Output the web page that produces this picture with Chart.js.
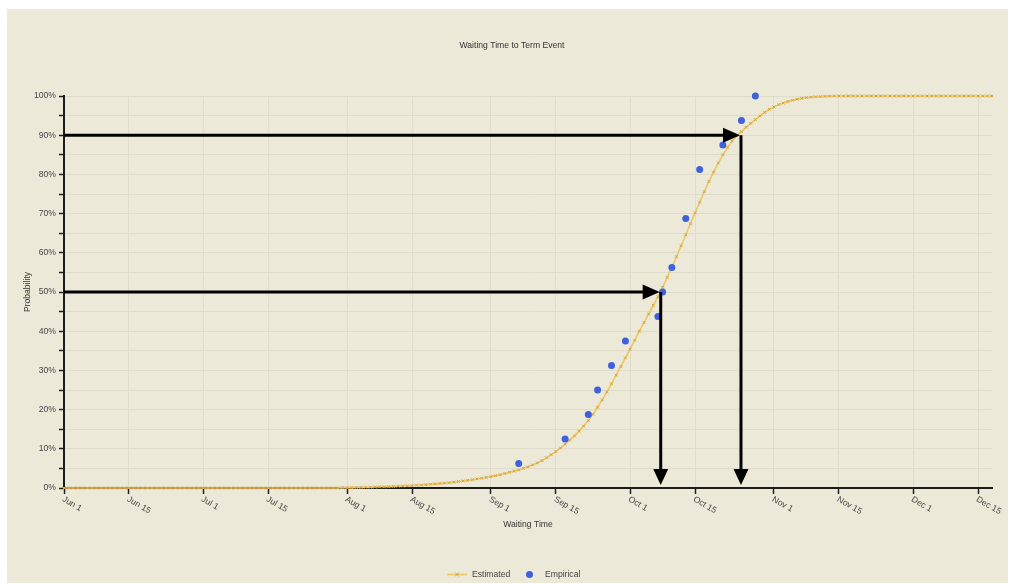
<!DOCTYPE html>
<html>
<head>
<meta charset="utf-8">
<title>Waiting Time to Term Event</title>
<script src="https://cdn.jsdelivr.net/npm/chart.js@4.4.1/dist/chart.umd.min.js"></script>
<style>
  html, body { margin: 0; padding: 0; background: #ffffff; overflow: hidden; }
  canvas { display: block; }
</style>
</head>
<body>
<canvas id="chart" width="1011" height="584"></canvas>
<script>
// ---- data ----
const chartTitle = 'Waiting Time to Term Event';
const xAxisTitle = 'Waiting Time';
const yAxisTitle = 'Probability';

// x values are day offsets counted from Jun 1
const axisFirstDay = 0;
const axisLastDay = 200;
const tickDays = [0, 14, 30, 44, 61, 75, 92, 106, 122, 136, 153, 167, 183, 197];
const tickLabels = ['Jun 1', 'Jun 15', 'Jul 1', 'Jul 15', 'Aug 1', 'Aug 15', 'Sep 1',
                    'Sep 15', 'Oct 1', 'Oct 15', 'Nov 1', 'Nov 15', 'Dec 1', 'Dec 15'];

// fitted distribution, one value (%) per day starting Jun 1
const estimatedProb = [
  0, 0, 0, 0, 0, 0, 0, 0, 0, 0,
  0, 0, 0, 0, 0, 0, 0, 0, 0, 0,
  0, 0, 0, 0, 0, 0, 0, 0, 0, 0,
  0, 0, 0, 0, 0, 0, 0, 0, 0, 0,
  0, 0, 0, 0, 0, 0, 0, 0, 0, 0,
  0, 0, 0, 0, 0, 0, 0, 0, 0, 0,
  0.1, 0.1, 0.1, 0.15, 0.15, 0.2, 0.2, 0.25, 0.3, 0.3,
  0.35, 0.4, 0.45, 0.5, 0.55, 0.6, 0.7, 0.75, 0.85, 0.95,
  1.05, 1.15, 1.25, 1.35, 1.5, 1.65, 1.8, 1.95, 2.1, 2.3,
  2.5, 2.7, 2.9, 3.15, 3.4, 3.7, 4.0, 4.3, 4.6, 5.0,
  5.4, 5.9, 6.4, 7.0, 7.7, 8.5, 9.3, 10.2, 11.2, 12.2,
  13.3, 14.5, 15.8, 17.2, 18.8, 20.6, 22.5, 24.5, 26.6, 28.8,
  31.0, 33.2, 35.4, 37.7, 40.0, 42.2, 44.4, 46.6, 48.8, 51.2,
  53.7, 56.3, 59.0, 61.8, 64.6, 67.4, 70.2, 72.9, 75.6, 78.2,
  80.6, 82.9, 85.0, 86.9, 88.5, 89.8, 90.9, 92.0, 93.0, 94.0,
  94.9, 95.8, 96.6, 97.2, 97.8, 98.2, 98.6, 98.9, 99.2, 99.4,
  99.6, 99.7, 99.8, 99.85, 99.9, 99.95, 100, 100, 100, 100,
  100, 100, 100, 100, 100, 100, 100, 100, 100, 100,
  100, 100, 100, 100, 100, 100, 100, 100, 100, 100,
  100, 100, 100, 100, 100, 100, 100, 100, 100, 100,
  100
];

// observed events (cumulative share, %)
const empiricalDays = [98, 108, 113, 115, 118, 121, 128, 129, 131, 134, 137, 142, 146, 149];
const empiricalProb = [6.25, 12.5, 18.75, 25, 31.25, 37.5, 43.75, 50, 56.25, 68.75, 81.25, 87.5, 93.75, 100];

// read-off guides: probability level -> day on the fitted curve
const guideProbs = [50, 90];
const guideDays = [128.6, 145.9];

// ---- styling ----
const PANEL = '#ECE9D8';
const GRID = '#DFDCCA';
const AXIS = '#1c1c1c';
const TEXT = '#454545';
const EST_LINE = '#ECC766';
const EST_MARK = '#D6A63C';
const EMP_DOT = '#3F62DC';
const FONT = "'Liberation Sans', Arial, sans-serif";
const FS = 8.6;

Chart.defaults.font.family = FONT;
Chart.defaults.font.size = FS;
Chart.defaults.color = TEXT;

const estimatedPoints = estimatedProb.map((p, i) => ({ x: axisFirstDay + i, y: p }));
const empiricalPoints = empiricalDays.map((d, i) => ({ x: d, y: empiricalProb[i] }));

const panelPlugin = {
  id: 'panel',
  beforeDraw(chart) {
    const ctx = chart.ctx;
    ctx.save();
    ctx.fillStyle = '#ffffff';
    ctx.fillRect(0, 0, chart.width, chart.height);
    ctx.fillStyle = PANEL;
    ctx.fillRect(7, 9, 1001, 574);
    // chart heading
    ctx.font = FS + 'px ' + FONT;
    ctx.fillStyle = '#333';
    ctx.textAlign = 'center';
    ctx.textBaseline = 'middle';
    ctx.fillText(chartTitle, 512, 46);
    ctx.restore();
  }
};

const slantedLabels = {
  id: 'slantedLabels',
  afterDraw(chart) {
    const ctx = chart.ctx;
    const xs = chart.scales.x;
    const y0 = chart.scales.y.bottom + 7;
    ctx.save();
    ctx.font = FS + 'px ' + FONT;
    ctx.fillStyle = TEXT;
    ctx.textAlign = 'left';
    ctx.textBaseline = 'top';
    tickDays.forEach((d, i) => {
      const x = xs.getPixelForValue(d);
      ctx.save();
      ctx.translate(x + 1, y0);
      ctx.rotate(30 * Math.PI / 180);
      ctx.fillText(tickLabels[i], 0, 0);
      ctx.restore();
    });
    ctx.restore();
  }
};

const guideArrows = {
  id: 'guideArrows',
  afterDatasetsDraw(chart) {
    const ctx = chart.ctx;
    const xs = chart.scales.x, ys = chart.scales.y;
    ctx.save();
    ctx.strokeStyle = '#000';
    ctx.fillStyle = '#000';
    ctx.lineWidth = 3;
    ctx.lineCap = 'butt';
    guideProbs.forEach((p, i) => {
      const px = xs.getPixelForValue(guideDays[i]);
      const py = ys.getPixelForValue(p);
      const x0 = xs.left;
      const tipX = px - 1;
      const headL = 17, headW = 7.5;
      // horizontal arrow from the axis to the curve
      ctx.beginPath();
      ctx.moveTo(x0, py);
      ctx.lineTo(tipX - headL + 2, py);
      ctx.stroke();
      ctx.beginPath();
      ctx.moveTo(tipX, py);
      ctx.lineTo(tipX - headL, py - headW);
      ctx.lineTo(tipX - headL, py + headW);
      ctx.closePath();
      ctx.fill();
      // vertical arrow from the curve down to the time axis
      const tipY = ys.bottom - 3;
      const vL = 16, vW = 7.5;
      ctx.beginPath();
      ctx.moveTo(px, py);
      ctx.lineTo(px, tipY - vL + 2);
      ctx.stroke();
      ctx.beginPath();
      ctx.moveTo(px, tipY);
      ctx.lineTo(px - vW, tipY - vL);
      ctx.lineTo(px + vW, tipY - vL);
      ctx.closePath();
      ctx.fill();
    });
    ctx.restore();
  }
};

const bottomLegend = {
  id: 'bottomLegend',
  afterDraw(chart) {
    const ctx = chart.ctx;
    const y = 574.5;
    ctx.save();
    // Estimated: line with a marker
    ctx.strokeStyle = EST_LINE;
    ctx.lineWidth = 1.6;
    ctx.beginPath();
    ctx.moveTo(447, y);
    ctx.lineTo(467, y);
    ctx.stroke();
    ctx.strokeStyle = EST_MARK;
    ctx.lineWidth = 1;
    ctx.beginPath();
    ctx.moveTo(455, y - 2); ctx.lineTo(459, y + 2);
    ctx.moveTo(459, y - 2); ctx.lineTo(455, y + 2);
    ctx.stroke();
    ctx.font = FS + 'px ' + FONT;
    ctx.fillStyle = TEXT;
    ctx.textAlign = 'left';
    ctx.textBaseline = 'middle';
    ctx.fillText(chart.data.datasets[0].label, 472, y);
    // Empirical: dot
    ctx.fillStyle = EMP_DOT;
    ctx.beginPath();
    ctx.arc(529.5, y, 3.5, 0, Math.PI * 2);
    ctx.fill();
    ctx.fillStyle = TEXT;
    ctx.fillText(chart.data.datasets[1].label, 545, y);
    ctx.restore();
  }
};

new Chart(document.getElementById('chart'), {
  type: 'line',
  data: {
    datasets: [
      {
        label: 'Estimated',
        data: estimatedPoints,
        borderColor: EST_LINE,
        borderWidth: 1.6,
        tension: 0,
        pointStyle: 'crossRot',
        pointRadius: 2,
        pointBorderWidth: 1,
        pointBorderColor: EST_MARK,
        pointBackgroundColor: EST_MARK,
        clip: false,
        order: 2
      },
      {
        label: 'Empirical',
        data: empiricalPoints,
        showLine: false,
        pointStyle: 'circle',
        pointRadius: 3.5,
        pointBorderWidth: 0,
        pointBackgroundColor: EMP_DOT,
        borderColor: EMP_DOT,
        clip: false,
        order: 1
      }
    ]
  },
  options: {
    responsive: false,
    animation: false,
    devicePixelRatio: 1,
    layout: { padding: { left: 22, right: 19, top: 96, bottom: 54.6 } },
    plugins: {
      legend: { display: false },
      tooltip: { enabled: false },
      title: { display: false }
    },
    scales: {
      x: {
        type: 'linear',
        min: axisFirstDay,
        max: axisLastDay,
        afterBuildTicks(scale) { scale.ticks = tickDays.map(v => ({ value: v })); },
        afterFit(scale) { scale.height = 41.4; },
        ticks: { display: false },
        grid: { color: GRID, lineWidth: 1, tickColor: AXIS, tickLength: 6, tickWidth: 1.5 },
        border: { color: AXIS, width: 2 },
        title: { display: true, text: xAxisTitle, color: '#333', font: { size: FS }, padding: 0 }
      },
      y: {
        min: 0,
        max: 100,
        afterFit(scale) { scale.width = 42; },
        ticks: {
          stepSize: 5,
          autoSkip: false,
          padding: 3,
          color: TEXT,
          callback: v => (v % 10 === 0 ? v + '%' : '')
        },
        grid: { color: GRID, lineWidth: 1, tickColor: AXIS, tickLength: 5, tickWidth: 1.5 },
        border: { color: AXIS, width: 2 },
        title: { display: true, text: yAxisTitle, color: '#333', font: { size: FS }, padding: 0 }
      }
    }
  },
  plugins: [panelPlugin, guideArrows, slantedLabels, bottomLegend]
});
</script>
</body>
</html>
